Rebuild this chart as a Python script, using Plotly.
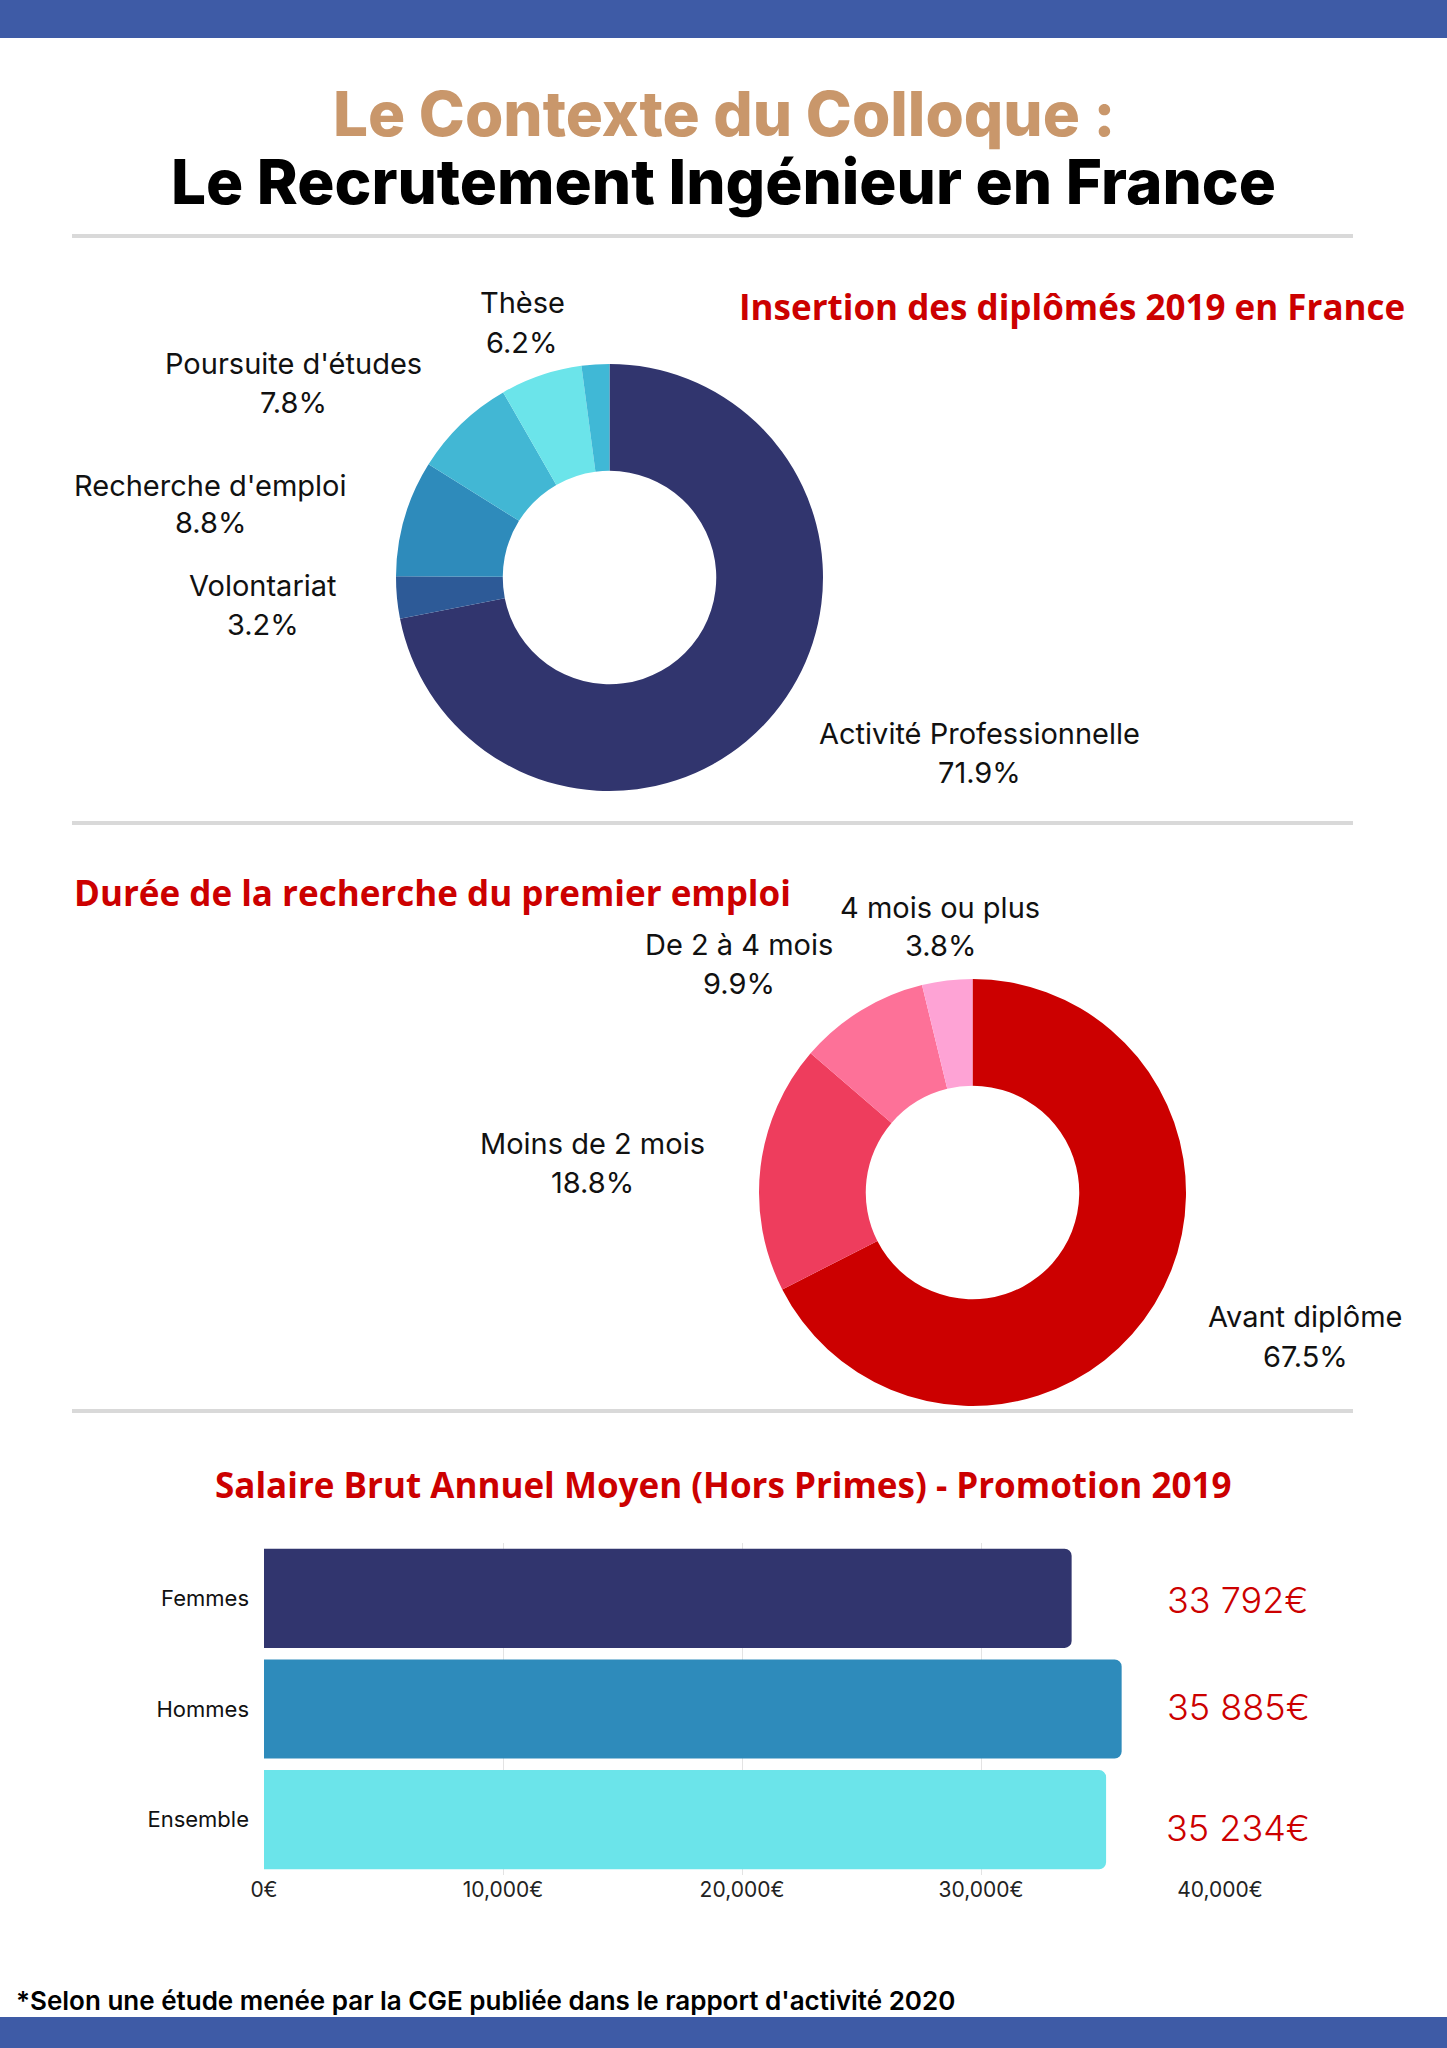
import plotly.graph_objects as go

W, H = 1447, 2048

# ---------------- data ----------------
insertion_labels = ["Activité Professionnelle", "Volontariat", "Recherche d'emploi",
                    "Poursuite d'études", "Thèse", "Autres"]
insertion_values = [71.9, 3.2, 8.8, 7.8, 6.2, 2.1]
insertion_colors = ["#31356e", "#2d5a97", "#2e8bbb", "#42b7d4", "#6be4ea", "#40b8d6"]

duree_labels = ["Avant diplôme", "Moins de 2 mois", "De 2 à 4 mois", "4 mois ou plus"]
duree_values = [67.5, 18.8, 9.9, 3.8]
duree_colors = ["#cc0000", "#ee3d5d", "#fd7198", "#fea3d5"]

salaire_categories = ["Femmes", "Hommes", "Ensemble"]
salaire_values = [33792, 35885, 35234]
salaire_colors = ["#31356e", "#2e8bbb", "#6be4ea"]
salaire_ticks = [0, 10000, 20000, 30000, 40000]
salaire_ticktext = [f"{v:,}€" for v in salaire_ticks]


def px(x):
    return x / W


def py(y):
    return 1 - y / H


fig = go.Figure()

# donut 1
fig.add_trace(go.Pie(
    labels=insertion_labels, values=insertion_values, hole=0.5, sort=False,
    direction="clockwise", rotation=0, textinfo="none", showlegend=False,
    marker=dict(colors=insertion_colors, line=dict(width=0)),
    domain=dict(x=[px(396), px(823)], y=[py(791), py(364)]),
))

# donut 2
fig.add_trace(go.Pie(
    labels=duree_labels, values=duree_values, hole=0.5, sort=False,
    direction="clockwise", rotation=0, textinfo="none", showlegend=False,
    marker=dict(colors=duree_colors, line=dict(width=0)),
    domain=dict(x=[px(759), px(1186)], y=[py(1406), py(979)]),
))

# bars
fig.add_trace(go.Bar(
    y=salaire_categories, x=salaire_values, orientation="h",
    marker=dict(color=salaire_colors, line=dict(width=0), cornerradius=7),
    showlegend=False, hoverinfo="x+y",
))

LABEL_FONT = dict(family="Inter", size=29, color="#111111")

ann = []

ins_pos = {
    "Thèse": (522, 302, 342),
    "Poursuite d'études": (293, 363, 402),
    "Recherche d'emploi": (210, 485, 522),
    "Volontariat": (263, 585, 624),
    "Activité Professionnelle": (979, 733, 772),
}
for lab, val in zip(insertion_labels, insertion_values):
    if lab in ins_pos:
        x, y1, y2 = ins_pos[lab]
        ann.append(dict(x=px(x), y=py(y1), text=lab, font=LABEL_FONT))
        ann.append(dict(x=px(x), y=py(y2), text=f"{val:.1f}%", font=LABEL_FONT))

duree_pos = {
    "4 mois ou plus": (940, 907, 945),
    "De 2 à 4 mois": (739, 944, 983),
    "Moins de 2 mois": (592, 1143, 1182),
    "Avant diplôme": (1305, 1316, 1356),
}
for lab, val in zip(duree_labels, duree_values):
    x, y1, y2 = duree_pos[lab]
    ann.append(dict(x=px(x), y=py(y1), text=lab, font=LABEL_FONT))
    ann.append(dict(x=px(x), y=py(y2), text=f"{val:.1f}%", font=LABEL_FONT))

sal_y = [1600, 1707, 1828]
for v, y in zip(salaire_values, sal_y):
    s = f"{v:,}".replace(",", " ") + "€"
    ann.append(dict(x=px(1238), y=py(y), text=s,
                    font=dict(family="Inter", size=36, color="#cc0000", weight=300)))

ann.append(dict(x=0.5, y=py(113), text="Le Contexte du Colloque :",
                font=dict(family="Inter", size=62, color="#c9976b", weight=800)))
ann.append(dict(x=0.5, y=py(181), text="Le Recrutement Ingénieur en France",
                font=dict(family="Inter", size=62, color="#000000", weight=800)))

RED_TITLE = dict(family="Open Sans", size=35, color="#cc0000", weight=700)
ann.append(dict(x=px(1407), y=py(306), xanchor="right",
                text="Insertion des diplômés 2019 en France", font=RED_TITLE))
ann.append(dict(x=px(72), y=py(892), xanchor="left",
                text="Durée de la recherche du premier emploi", font=RED_TITLE))
ann.append(dict(x=0.5, y=py(1484),
                text="Salaire Brut Annuel Moyen (Hors Primes) - Promotion 2019", font=RED_TITLE))

ann.append(dict(x=px(14), y=py(2000), xanchor="left",
                text="*Selon une étude menée par la CGE publiée dans le rapport d'activité 2020",
                font=dict(family="Inter", size=26, color="#000000", weight=600)))

for a in ann:
    a.setdefault("xref", "paper")
    a.setdefault("yref", "paper")
    a.setdefault("showarrow", False)
    a.setdefault("xanchor", "center")
    a.setdefault("yanchor", "middle")

shapes = [
    dict(type="rect", xref="paper", yref="paper", x0=0, x1=1, y0=py(38), y1=1,
         fillcolor="#3e5ba6", line=dict(width=0), layer="below"),
    dict(type="rect", xref="paper", yref="paper", x0=0, x1=1, y0=0, y1=py(2017),
         fillcolor="#3e5ba6", line=dict(width=0), layer="below"),
]
for yl in [236, 823, 1411]:
    shapes.append(dict(type="line", xref="paper", yref="paper", x0=px(72), x1=px(1353),
                       y0=py(yl), y1=py(yl), line=dict(color="#d9d9d9", width=4)))

fig.update_layout(
    width=W, height=H, autosize=False, margin=dict(l=0, r=0, t=0, b=0, pad=0, autoexpand=False),
    paper_bgcolor="white", plot_bgcolor="white",
    annotations=ann, shapes=shapes, bargap=0.104,
    xaxis=dict(domain=[px(264), px(1220)], range=[0, 40000], tickmode="array",
               tickvals=salaire_ticks, ticktext=salaire_ticktext, automargin=False,
               showgrid=True, gridcolor="#e3e3e3",
               gridwidth=1, zeroline=False, showline=False, ticks="",
               tickfont=dict(family="Inter", size=21, color="#222222"), fixedrange=True),
    yaxis=dict(domain=[py(1875), py(1543)], autorange="reversed", showgrid=False,
               automargin=False,
               zeroline=False, showline=False, ticks="", ticklabelstandoff=14,
               tickfont=dict(family="Inter", size=22, color="#111111"), fixedrange=True),
)

fig.write_html(
    "out.html",
    config={"responsive": False, "displayModeBar": False},
    post_script="document.body.style.margin='0';document.body.style.overflow='hidden';"
                "document.documentElement.style.overflow='hidden';",
)
